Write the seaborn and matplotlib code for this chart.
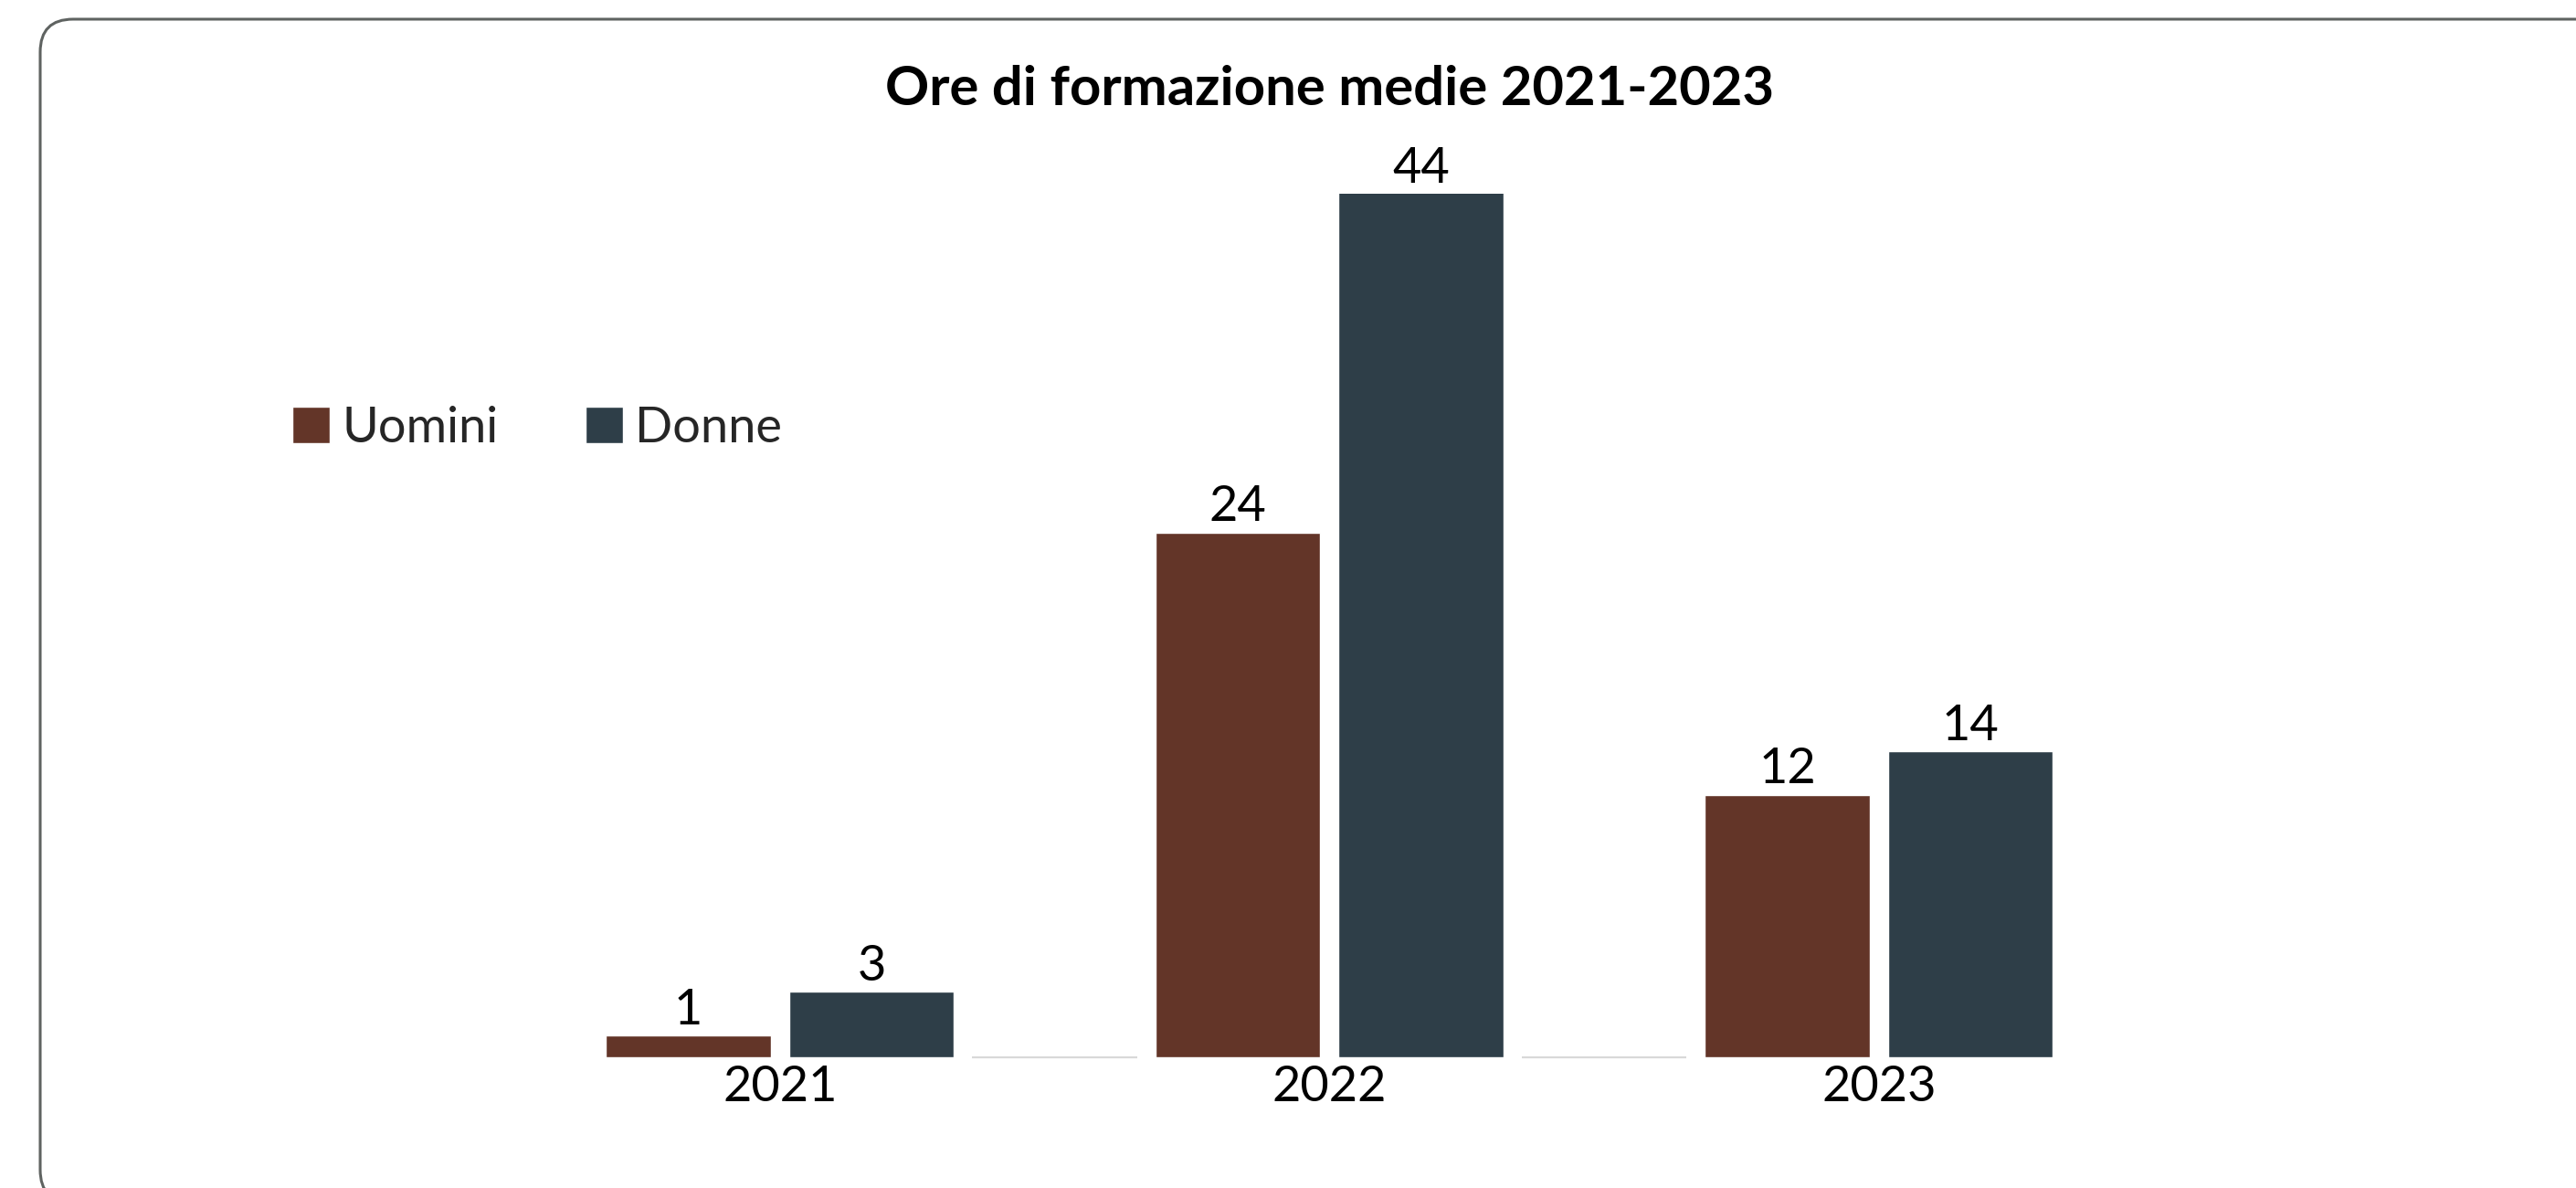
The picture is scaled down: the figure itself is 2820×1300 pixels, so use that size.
import matplotlib
matplotlib.use("Agg")
import matplotlib.pyplot as plt
from matplotlib.patches import FancyBboxPatch, Patch
from matplotlib.transforms import IdentityTransform
import seaborn as sns
import numpy as np
import pandas as pd

# data
anni = ["2021", "2022", "2023"]
uomini = [1, 24, 12]
donne = [3, 44, 14]
# empty third slot in each group (drawn as a thin grey baseline), none after 2023
spazio = [0, 0, np.nan]

serie = ["Uomini", "Donne", ""]
colori = {"Uomini": "#633528", "Donne": "#2E3E48", "": "#d9d9d9"}
titolo = "Ore di formazione medie 2021-2023"

df = pd.DataFrame({
    "anno": anni * 3,
    "genere": ["Uomini"] * 3 + ["Donne"] * 3 + [""] * 3,
    "ore": uomini + donne + spazio,
})

sns.set_theme(style="white")
plt.rcParams["font.family"] = ["Lato", "DejaVu Sans"]

fig = plt.figure(figsize=(28.2, 13), dpi=100)
ax = fig.add_axes([0, 0.11, 1, 0.7269])

sns.barplot(data=df, x="anno", y="ore", hue="genere", hue_order=serie,
            palette=colori, width=1.0, gap=0.1, saturation=1,
            legend=False, ax=ax)

ymax = 39.5
ax.set_ylim(0, ymax)
ax.set_xlim(-1.586, 3.102)

# spacer bars: zero height, only a light edge line
for p in ax.containers[2]:
    p.set_edgecolor("#d9d9d9")
    p.set_linewidth(1.6)
    p.set_clip_on(False)

# value labels (the 44 bar is cut at the top of the plot area)
for cont, vals in zip(ax.containers[:2], [uomini, donne]):
    for p, v in zip(cont, vals):
        xc = p.get_x() + p.get_width() / 2
        ax.annotate(str(v), xy=(xc, min(v, ymax)), xytext=(0, 9),
                    textcoords="offset points", ha="center", va="baseline",
                    fontsize=39, color="black", annotation_clip=False)

# category labels centred under the two real bars
centri = [(a.get_x() + a.get_width() + b.get_x()) / 2
          for a, b in zip(ax.containers[0], ax.containers[1])]
ax.set_xticks(centri)
ax.set_xticklabels(anni, fontsize=39, color="black")
ax.tick_params(axis="x", length=0, pad=6)
ax.set_yticks([])
ax.set_xlabel("")
ax.set_ylabel("")
sns.despine(ax=ax, left=True, bottom=True, top=True, right=True)
ax.patch.set_alpha(0)

fig.text(0.5163, 1 - 115 / 1300, titolo, ha="center", va="baseline",
         fontsize=43, fontweight="bold", color="black")

handles = [Patch(facecolor=colori["Uomini"], label="Uomini"),
           Patch(facecolor=colori["Donne"], label="Donne")]
fig.legend(handles=handles, loc="center left",
           bbox_to_anchor=(320 / 2820, 1 - 468 / 1300), ncol=2, frameon=False,
           fontsize=39, handlelength=0.76, handleheight=0.76,
           handletextpad=0.25, columnspacing=1.75, borderpad=0,
           borderaxespad=0)

# rounded frame around the card
cornice = FancyBboxPatch((44, -16), 2900, 1295,
                         boxstyle="round,pad=0,rounding_size=36",
                         transform=IdentityTransform(), facecolor="none",
                         edgecolor="#5f6361", linewidth=2.2)
fig.patches.append(cornice)

fig.savefig("out.png", dpi=100, facecolor="white")
